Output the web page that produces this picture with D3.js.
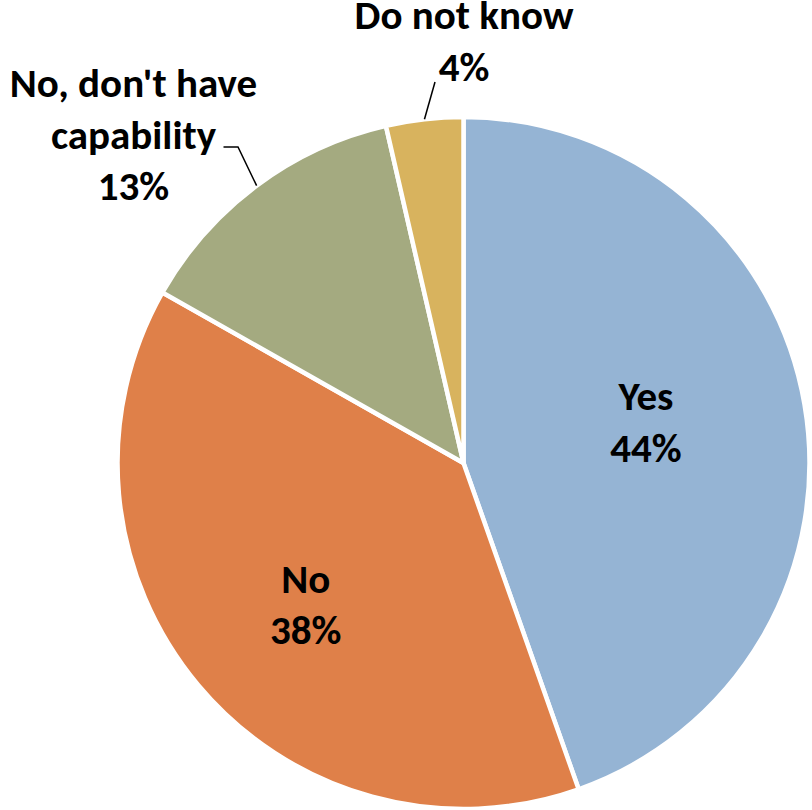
<!DOCTYPE html>
<html>
<head>
<meta charset="utf-8">
<script src="https://cdn.jsdelivr.net/npm/d3@7"></script>
<style>
  html, body { margin: 0; padding: 0; background: #ffffff; }
  svg { display: block; }
  text { font-family: Carlito, Calibri, "Open Sans", sans-serif; font-weight: bold; fill: #000; }
</style>
</head>
<body>
<div id="chart"></div>
<script>
// ---- data ----
const categories = ["Yes", "No", "No, don't have\ncapability", "Do not know"];
const values = [44.6, 38.6, 13.2, 3.6];
const pctLabels = ["44%", "38%", "13%", "4%"];
const colors = ["#95B4D4", "#DF8049", "#A4AA80", "#D8B35E"];

// ---- layout ----
const W = 812, H = 810;
const cx = 463.5, cy = 463, R = 346;
const lineH = 51.5;
const fontSize = 41;

const svg = d3.select("#chart").append("svg").attr("width", W).attr("height", H);
const g = svg.append("g").attr("transform", `translate(${cx},${cy})`);

const data = categories.map((c, i) => ({ name: c, value: values[i], pct: pctLabels[i], color: colors[i] }));

const pie = d3.pie().sort(null).value(d => d.value).startAngle(0).endAngle(2 * Math.PI);
const arcs = pie(data);
const arc = d3.arc().innerRadius(0).outerRadius(R);

g.selectAll("path.slice").data(arcs).enter().append("path")
  .attr("class", "slice")
  .attr("d", arc)
  .attr("fill", d => d.data.color)
  .attr("stroke", "#ffffff")
  .attr("stroke-width", 4.5)
  .attr("stroke-linejoin", "round");

// polar helper (angle measured clockwise from 12 o'clock)
const polar = (a, r) => [r * Math.sin(a), -r * Math.cos(a)];
const mid = d => (d.startAngle + d.endAngle) / 2;

// label placement: inside labels via polar offset from the slice's mid angle,
// outside labels placed beside the slice with a leader line.
const deg = Math.PI / 180;
const labelSpec = [
  { mode: "in", rf: 0.533, da: 1.3 * deg },
  { mode: "in", rf: 0.64, da: -4.6 * deg },
  { mode: "out", pos: [-330, -366], leader: [[-225.5, -316], [-240, -316]] },
  { mode: "out", pos: [0.5, -434], leader: [[-28.5, -381]] }
];

arcs.forEach((d, i) => {
  const spec = labelSpec[i];
  const lines = d.data.name.split("\n").concat([d.data.pct]);
  let x, y;
  if (spec.mode === "in") {
    [x, y] = polar(mid(d) + spec.da, R * spec.rf);
    y = y - (lines.length - 1) * lineH / 2;   // y = first baseline
  } else {
    [x, y] = spec.pos;
    const start = polar(mid(d), R);
    const pts = [start].concat(spec.leader);
    g.append("path")
      .attr("d", d3.line()(pts))
      .attr("fill", "none")
      .attr("stroke", "#000")
      .attr("stroke-width", 1.5);
  }
  const t = g.append("text")
    .attr("text-anchor", "middle")
    .attr("font-size", fontSize);
  lines.forEach((ln, k) => {
    t.append("tspan").attr("x", x).attr("y", y + k * lineH).text(ln);
  });
});
</script>
</body>
</html>
